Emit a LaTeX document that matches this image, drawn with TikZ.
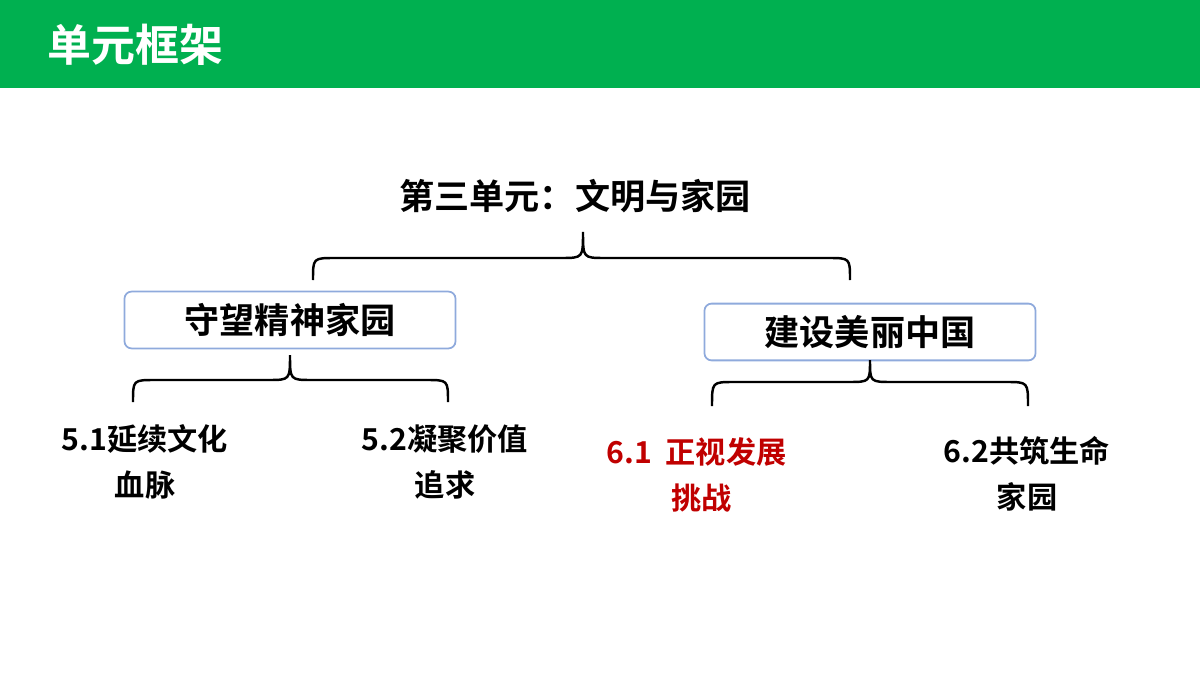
\documentclass[tikz,border=0pt]{standalone}
\usepackage{fontspec}
\setmainfont{Noto Sans CJK SC}[BoldFont={* Bold}]
\definecolor{hdr}{RGB}{0,176,80}
\definecolor{bx}{RGB}{143,170,220}
\definecolor{dred}{RGB}{192,0,0}
\begin{document}
\begin{tikzpicture}[x=0.1mm,y=-0.1mm,
  box/.style={draw=bx,line width=0.5pt,rounded corners=2pt,minimum width=33.1mm,font=\fontsize{10}{12}\selectfont\bfseries},
  leaf/.style={font=\fontsize{8.6}{13}\selectfont\bfseries,align=center},
  br/.style={line width=0.7pt}]
\useasboundingbox (0,0) rectangle (1200,675);
\fill[hdr] (0,0) rectangle (1200,88);
\node[anchor=west,text=white,font=\fontsize{12.5}{14}\selectfont\bfseries] (h) at (35,45) {单元框架};
\node[font=\fontsize{10}{12}\selectfont\bfseries] (t) at (575,196) {第三单元：文明与家园};
\node[box,minimum height=5.6mm] (a) at (290,320) {守望精神家园};
\node[box,minimum height=5.6mm] (b) at (870,332) {建设美丽中国};
% braces
\draw[br] (313,280) .. controls (313,258) .. (335,258) -- (561,258) .. controls (583,258) .. (583,232) .. controls (583,258) .. (605,258) -- (828,258) .. controls (850,258) .. (850,280);
\draw[br] (133,402) .. controls (133,380) .. (155,380) -- (268,380) .. controls (290,380) .. (290,355) .. controls (290,380) .. (312,380) -- (426,380) .. controls (448,380) .. (448,402);
\draw[br] (712,406) .. controls (712,382) .. (734,382) -- (848,382) .. controls (870,382) .. (870,360) .. controls (870,382) .. (892,382) -- (1006,382) .. controls (1028,382) .. (1028,406);
\node[leaf] (l1) at (145,462) {5.1延续文化\\血脉};
\node[leaf] (l2) at (445,462) {5.2凝聚价值\\追求};
\node[leaf,text=dred,align=left,anchor=north west] (l3) at (594,425) {6.1\ \ 正视发展\\\hspace*{6.5mm}挑战};
\node[leaf] (l4) at (1027,474) {6.2共筑生命\\家园};
\end{tikzpicture}
\end{document}
